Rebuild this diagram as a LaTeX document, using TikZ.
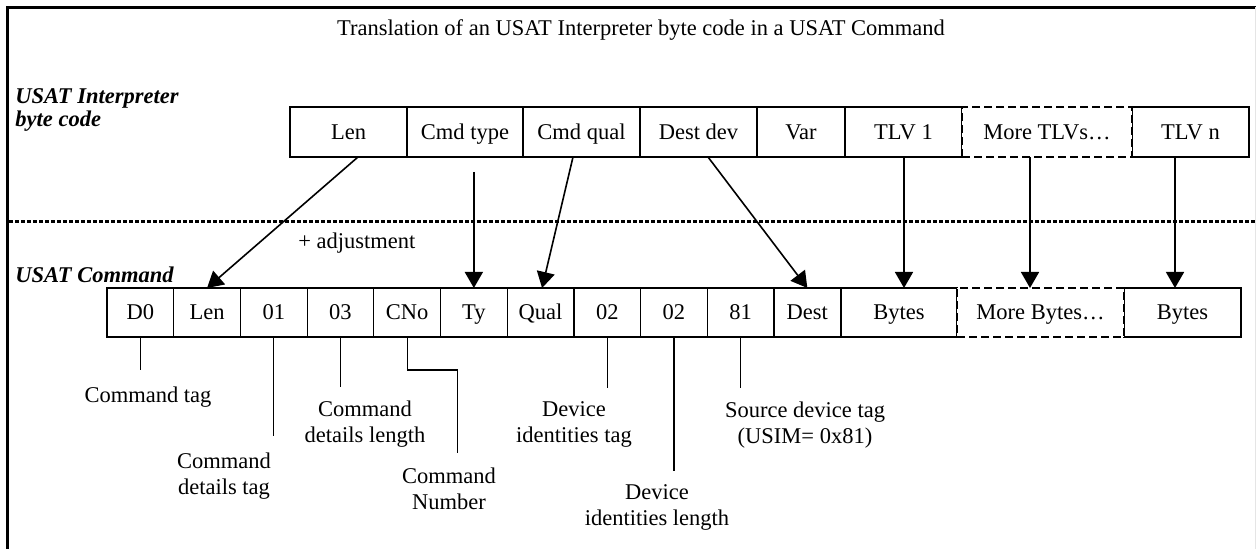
\documentclass[tikz,border=0pt]{standalone}
\usepackage{fontspec}
\setmainfont{Liberation Serif}
\usetikzlibrary{arrows.meta,calc}
\begin{document}
\begin{tikzpicture}[x=0.5pt,y=-0.5pt,
  every node/.style={font=\fontsize{11.25pt}{13pt}\selectfont},
  box/.style={draw, line width=0.6pt, inner sep=0pt, outer sep=0pt, text height=9pt, text depth=1.6pt},
  topbox/.style={box, minimum height=25pt},
  botbox/.style={box, minimum height=24.5pt},
  small/.style={botbox, minimum width=33.35pt},
  dbox/.style={dash pattern=on 4pt off 2pt, line width=0.8pt, fill=white},
  arr/.style={line width=0.8pt, -{Triangle[width=9pt,length=8pt]}},
  call/.style={line width=0.6pt},
  lab/.style={anchor=north, inner sep=0pt, align=center},
  hdr/.style={font=\fontsize{11.25pt}{11.5pt}\selectfont\bfseries\itshape, inner sep=0pt, align=left}
]
\useasboundingbox (0,0) rectangle (1256,549);
% frame
\draw[line width=1.5pt] (7.5,549) -- (7.5,7.5) -- (1256,7.5);
\draw[gray!20, line width=0.5pt] (1255,7.5) -- (1255,549);
% separator
\draw[line width=1.5pt, dash pattern=on 2pt off 1pt] (9,222) -- (1256,222);

% title and headers
\node[anchor=base] (title) at (641,36) {Translation of an USAT Interpreter byte code in a USAT Command};
\node[hdr, anchor=north west] (hinterp) at (15,88) {USAT Interpreter\\byte code};
\node[hdr, anchor=base west] (hcmd) at (15,283) {USAT Command};

% top row
\node[topbox, minimum width=58.5pt] (tlen)  at (348.5,132) {Len};
\node[topbox, minimum width=58pt]   (ttype) at (465,132)   {Cmd type};
\node[topbox, minimum width=58.5pt] (tqual) at (581.5,132) {Cmd qual};
\node[topbox, minimum width=58.5pt] (tdest) at (698.5,132) {Dest dev};
\node[topbox, minimum width=44pt]   (tvar)  at (801,132)   {Var};
\node[topbox, minimum width=58.5pt] (ttlv1) at (903.5,132) {TLV 1};
\node[topbox, minimum width=58.5pt] (ttlvn) at (1190.5,132) {TLV n};
\node[topbox, dbox, minimum width=85pt] (tmore) at (1047,132) {More TLVs\ldots};

% bottom row
\node[small] (bd0)   at (140.35,312.5) {D0};
\node[small] (blen)  at (207.05,312.5) {Len};
\node[small] (b01)   at (273.75,312.5) {01};
\node[small] (b03)   at (340.45,312.5) {03};
\node[small] (bcno)  at (407.15,312.5) {CNo};
\node[small] (bty)   at (473.85,312.5) {Ty};
\node[small] (bqual) at (540.55,312.5) {Qual};
\node[small] (b02a)  at (607.25,312.5) {02};
\node[small] (b02b)  at (673.95,312.5) {02};
\node[small] (b81)   at (740.65,312.5) {81};
\node[small] (bdest) at (807.35,312.5) {Dest};
\node[botbox, minimum width=58pt]   (bbytes1) at (899,312.5)    {Bytes};
\node[botbox, minimum width=58.5pt] (bbytesn) at (1182.5,312.5) {Bytes};
\node[botbox, dbox, minimum width=83.5pt] (bmore) at (1040.5,312.5) {More Bytes\ldots};

% adjustment text
\node[anchor=base west, inner sep=0pt] (adj) at (298,249) {+ adjustment};

% arrows
\draw[arr] ([xshift=4.75pt]tlen.south) -- (blen.north);
\coordinate (tys) at ($(bty.north |- ttype.south)+(0,-7.5pt)$);
\draw[arr] (tys) -- (bty.north);
\draw[arr] ([xshift=-4.25pt]tqual.south) -- ([xshift=0.75pt]bqual.north);
\draw[arr] ([xshift=4.75pt]tdest.south) -- (bdest.north);
\coordinate (t1s) at ([xshift=0.25pt]ttlv1.south);
\draw[arr] (t1s) -- (t1s |- bbytes1.north);
\coordinate (tms) at ([xshift=-8.5pt]tmore.south);
\draw[arr] (tms) -- (tms |- bmore.north);
\coordinate (tns) at ([xshift=-7.75pt]ttlvn.south);
\draw[arr] (tns) -- (tns |- bbytesn.north);

% callouts
\draw[call] (bd0.south) -- ++(0,33);
\draw[call] (b01.south) -- ++(0,99);
\draw[call] (b03.south) -- ++(0,50);
\draw[call] (bcno.south) -- ++(0,33) -- ++(50,0) -- ++(0,83);
\draw[call] (b02a.south) -- ++(0,51);
\draw[call] (b02b.south) -- ++(0,134);
\draw[call] (b81.south) -- ++(0,51);

% labels
\node[lab] (l1) at (148,386) {Command tag};
\node[lab] (l2) at (224,452) {Command\\details tag};
\node[lab] (l3) at (365,400) {Command\\details length};
\node[lab] (l4) at (449,467) {Command\\Number};
\node[lab] (l5) at (574,401) {Device\\identities tag};
\node[lab] (l6) at (657,484) {Device\\identities length};
\node[lab] (l7) at (805,401) {Source device tag\\(USIM= 0x81)};
\end{tikzpicture}
\end{document}
